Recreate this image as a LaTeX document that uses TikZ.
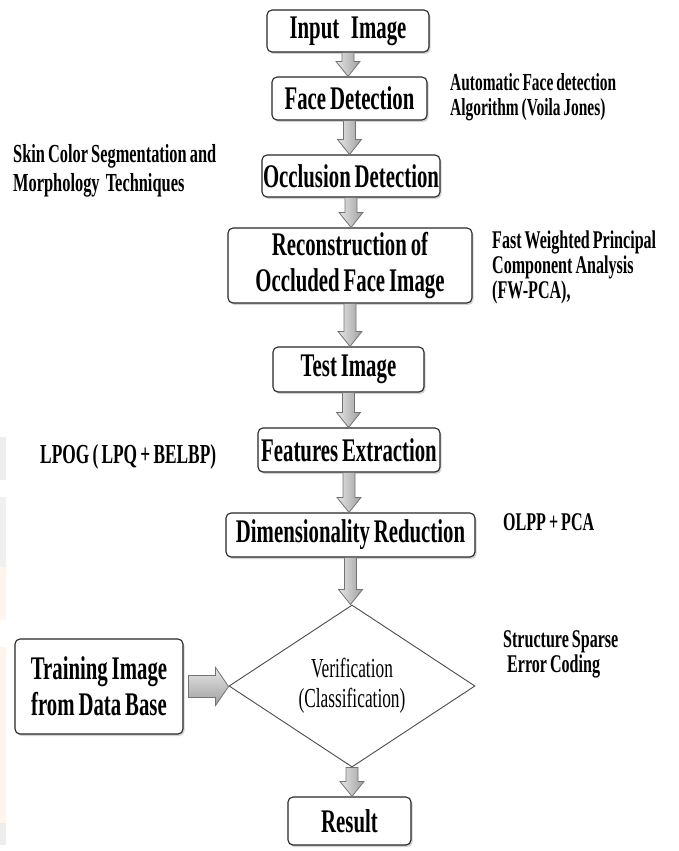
\documentclass[tikz,border=0pt]{standalone}
\usepackage{fontspec}
\setmainfont{Liberation Serif}[FakeStretch=0.63, WordSpace=0.75]
\usetikzlibrary{shapes.geometric,shadows,calc}

\begin{document}
\begin{tikzpicture}[
x=1pt, y=-1pt,
stepbox/.style={draw=black!85, line width=1.1pt, rounded corners=5pt, fill=white,
  drop shadow={shadow xshift=1.5pt, shadow yshift=-2pt, opacity=0.35},
  align=center, inner sep=0pt, font=\bfseries\fontsize{33}{36}\selectfont},
decision/.style={diamond, draw=black!70, line width=0.9pt, fill=white,
  minimum width=246pt, minimum height=142pt, inner sep=0pt, align=center,
  font=\fontsize{27.5}{30}\selectfont},
note/.style={anchor=north west, align=left, inner sep=0pt,
  font=\bfseries\fontsize{25.5}{25}\selectfont},
downarrow/.style={draw=black!55, line width=0.8pt, left color=gray!20, right color=gray!75},
sidearrow/.style={draw=black!55, line width=0.8pt, top color=gray!20, bottom color=gray!75}]
    \useasboundingbox (0,0) rectangle (678,851);

    % faint marks on the left edge
    \fill[gray!14] (0,437) rectangle (6,480);
    \fill[gray!12] (0,497) rectangle (6,567);
    \fill[orange!8] (0,567) rectangle (6,620);
    \fill[orange!8] (0,647) rectangle (6,823);
    \fill[gray!14] (0,823) rectangle (6,845);

    % Main chain
    \node[stepbox, minimum width=162pt, minimum height=42pt] (inimg) at (348,31) {Input\ \ \ Image};
    \node[stepbox, minimum width=155pt, minimum height=43pt] (facedet) at (349.5,98.5) {Face Detection};
    \node[stepbox, minimum width=178pt, minimum height=42pt] (occl) at (351,176) {Occlusion Detection};
    \node[stepbox, minimum width=244pt, minimum height=75pt] (recon) at (350,265.5) {Reconstruction of\\Occluded Face Image};
    \node[stepbox, minimum width=151pt, minimum height=45pt] (test) at (348.5,369.5) {Test Image};
    \node[stepbox, minimum width=182pt, minimum height=44pt] (feat) at (349,450) {Features Extraction};
    \node[stepbox, minimum width=249pt, minimum height=44pt] (dimred) at (350.5,535) {Dimensionality Reduction};
    \node[decision] (verif) at (352,686) {Verification\\(Classification)};
    \node[stepbox, minimum width=123pt, minimum height=48pt] (result) at (349.5,821) {Result};
    \node[stepbox, minimum width=168pt, minimum height=95pt] (train) at (99,686.5) {Training Image\\from Data Base};

    % Side notes
    \node[note, font=\bfseries\fontsize{24.5}{25}\selectfont] (autonote) at (450,73) {Automatic Face detection\\Algorithm (Voila Jones)};
    \node[note, font=\bfseries\fontsize{26}{29}\selectfont] (skinnote) at (13,144) {Skin Color Segmentation and\\Morphology\ \ Techniques};
    \node[note] (pcanote) at (492,231) {Fast Weighted Principal\\Component Analysis\\(FW-PCA),};
    \node[note, font=\bfseries\fontsize{27.5}{30}\selectfont] (lpognote) at (40,444) {LPOG ( LPQ + BELBP)};
    \node[note] (olppnote) at (503,513) {OLPP + PCA};
    \node[note] (ssecnote) at (503,630) {Structure Sparse\\\hspace{4pt}Error Coding};

    % Block arrows
    \foreach \a/\b in {inimg/facedet, facedet/occl, occl/recon, recon/test,
                       test/feat, feat/dimred, dimred/verif, verif/result}
        \path[downarrow] let \p1=(\a.south), \p2=(\b.north) in
            (\x1-6,\y1) -- (\x1+6,\y1) -- (\x1+6,\y2+15) -- (\x1+12,\y2+15)
            -- (\x1,\y2) -- (\x1-12,\y2+15) -- (\x1-6,\y2+15) -- cycle;
    \path[sidearrow] let \p1=(train.east), \p2=(verif.west) in
        (\x1+5,\y1+11) -- (\x1+5,\y1-11) -- (\x2-13,\y1-11) -- (\x2-13,\y1-19)
        -- (\x2,\y1) -- (\x2-13,\y1+19) -- (\x2-13,\y1+11) -- cycle;

\end{tikzpicture}
\end{document}
